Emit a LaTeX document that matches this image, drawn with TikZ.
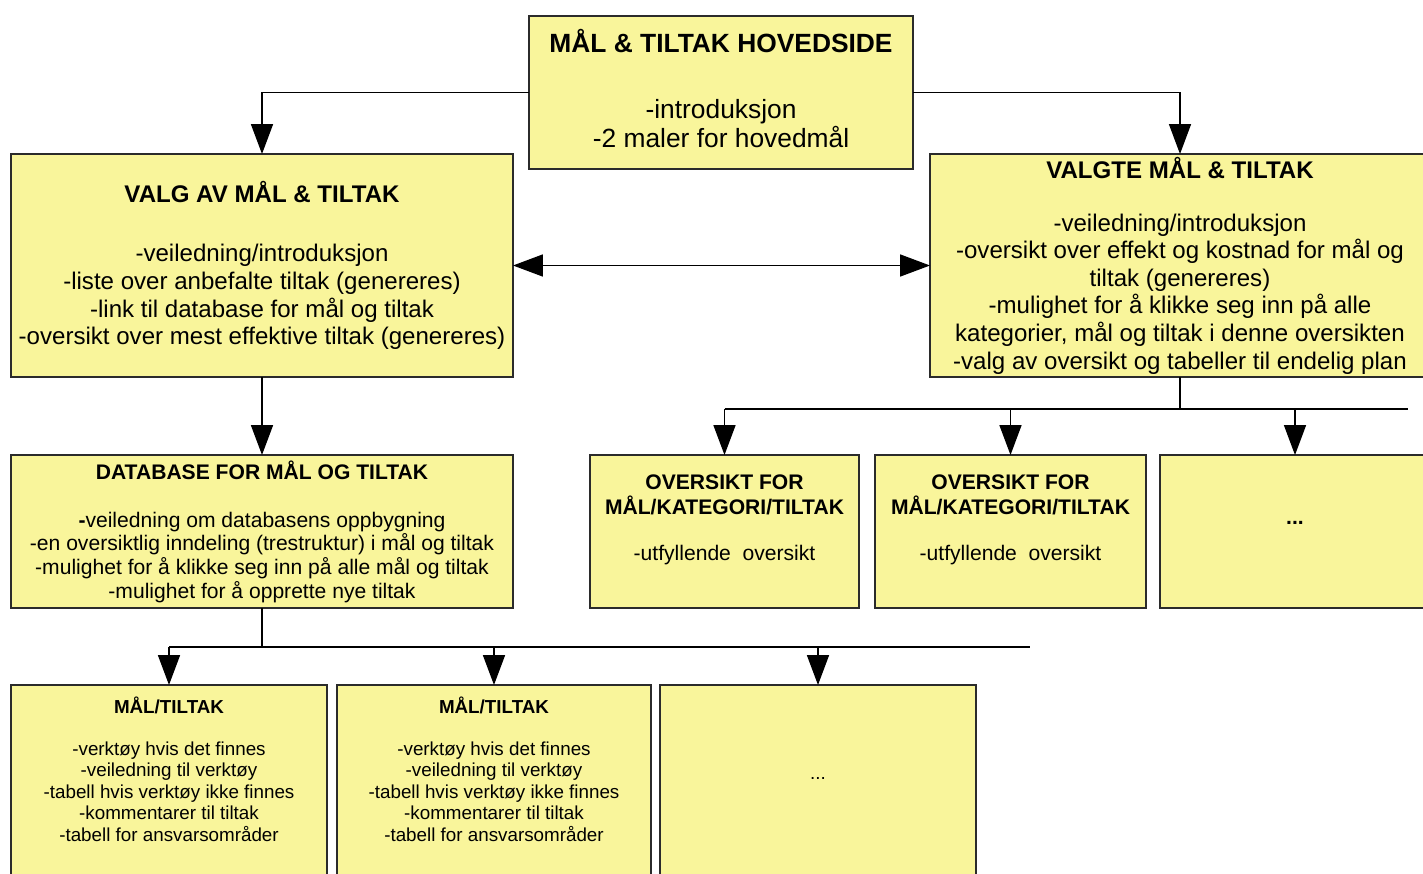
\documentclass[tikz,border=0pt]{standalone}
\usepackage{fontspec}
\setmainfont{Liberation Sans}
\usepackage{tikz}
\usetikzlibrary{arrows.meta,positioning}
\definecolor{note}{HTML}{F9F59B}
\definecolor{rim}{HTML}{2B2B2B}
\tikzset{box/.style={draw=rim,fill=note,line width=0.8pt,align=center,inner sep=0pt,outer sep=0pt},
  wide/.style={box,minimum width=10.04cm,font=\fontsize{13.7}{15.7}\selectfont},
  ovbox/.style={box,minimum height=3.06cm,font=\fontsize{12}{14.2}\selectfont},
  mbox/.style={box,anchor=north,inner ysep=7pt,font=\fontsize{10.7}{12.2}\selectfont},
  line/.style={draw=black,line width=0.85pt},
  arr/.style={line,-{Triangle[length=17pt,width=12.5pt]}},
  dblarr/.style={line,{Triangle[length=17pt,width=12.5pt]}-{Triangle[length=17pt,width=12.5pt]}}}

\begin{document}
\begin{tikzpicture}
\useasboundingbox (0,0) rectangle (28.46,-17.46);
\clip (0,0) rectangle (28.46,-17.46);
\fill[white] (0,0) rectangle (28.46,-17.46);
\node[box,minimum width=7.68cm,minimum height=3.06cm,font=\fontsize{15}{16.5}\selectfont] (hov) at (14.42,-1.85) {\textbf{MÅL \& TILTAK HOVEDSIDE}\\[21pt]-introduksjon\\-2 maler for hovedmål\\[-12pt]\mbox{}};
\node[wide,minimum height=4.46cm] (valg) at (5.24,-5.31) {\textbf{VALG AV MÅL \& TILTAK}\\[18pt]-veiledning/introduksjon\\-liste over anbefalte tiltak (genereres)\\-link til database for mål og tiltak\\-oversikt over mest effektive tiltak (genereres)};
\node[wide,minimum width=10cm,minimum height=4.46cm] (valgte) at (23.6,-5.31) {\textbf{VALGTE MÅL \& TILTAK}\\[14.5pt]-veiledning/introduksjon\\-oversikt over effekt og kostnad for mål og\\tiltak (genereres)\\-mulighet for å klikke seg inn på alle\\kategorier, mål og tiltak i denne oversikten\\-valg av oversikt og tabeller til endelig plan};
\node[box,minimum width=10.04cm,minimum height=3.06cm,font=\fontsize{12}{13.4}\selectfont] (db) at (5.24,-10.63) {\textbf{DATABASE FOR MÅL OG TILTAK}\\[14pt]\textbf{-}veiledning om databasens oppbygning\\-en oversiktlig inndeling (trestruktur) i mål og tiltak\\-mulighet for å klikke seg inn på alle mål og tiltak\\-mulighet for å opprette nye tiltak};
\node[ovbox,minimum width=5.38cm] (ov1) at (14.49,-10.63) {\textbf{OVERSIKT FOR}\\\textbf{MÅL/KATEGORI/TILTAK}\\[12pt]-utfyllende\ \ oversikt\\[2pt]\mbox{}};
\node[ovbox,minimum width=5.42cm] (ov2) at (20.21,-10.63) {\textbf{OVERSIKT FOR}\\\textbf{MÅL/KATEGORI/TILTAK}\\[12pt]-utfyllende\ \ oversikt\\[2pt]\mbox{}};
\node[ovbox,minimum width=5.4cm] (ov3) at (25.9,-10.63) {\textbf{...}\\[-4pt]\mbox{}};
\node[mbox,minimum width=6.32cm] (m1) at (3.38,-13.7) {\textbf{MÅL/TILTAK}\\[11.5pt]-verktøy hvis det finnes\\-veiledning til verktøy\\-tabell hvis verktøy ikke finnes\\-kommentarer til tiltak\\-tabell for ansvarsområder\\[60pt]\mbox{}};
\node[mbox,minimum width=6.28cm] (m2) at (9.88,-13.7) {\textbf{MÅL/TILTAK}\\[11.5pt]-verktøy hvis det finnes\\-veiledning til verktøy\\-tabell hvis verktøy ikke finnes\\-kommentarer til tiltak\\-tabell for ansvarsområder\\[60pt]\mbox{}};
\node[mbox,minimum width=6.32cm] (m3) at (16.36,-13.7) {\mbox{}\\[34.5pt]...\\[110pt]\mbox{}};
\draw[arr] (hov.west) -| (valg.north);
\draw[arr] (hov.east) -| (valgte.north);
\draw[dblarr] (valg.east) -- (valgte.west);
\draw[arr] (valg.south) -- (db.north);
\coordinate (busR) at (23.6,-8.18);
\coordinate (busRend) at (28.16,-8.18);
\draw[line] (valgte.south) -- (busR);
\draw[line] (ov1.north |- busR) -- (busRend);
\foreach \n in {ov1,ov2,ov3} \draw[arr] (\n.north |- busR) -- (\n.north);
\coordinate (busB) at (5.24,-12.94);
\coordinate (busBend) at (20.6,-12.94);
\draw[line] (db.south) -- (busB);
\draw[line] (m1.north |- busB) -- (busBend);
\foreach \n in {m1,m2,m3} \draw[arr] (\n.north |- busB) -- (\n.north);
\end{tikzpicture}
\end{document}
